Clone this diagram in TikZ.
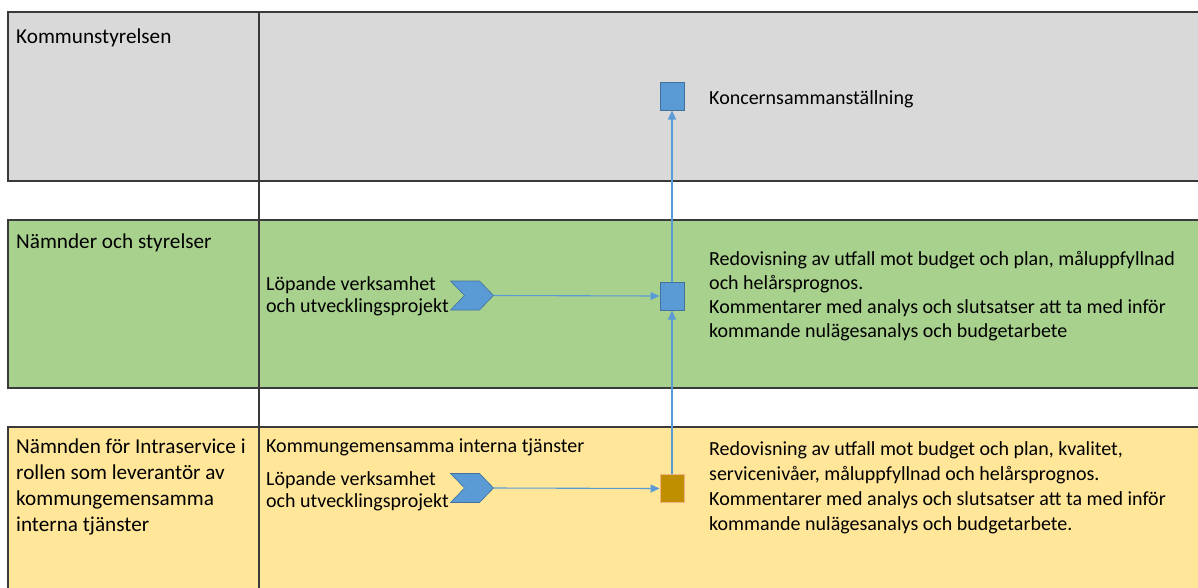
\documentclass[tikz,border=0pt]{standalone}
\usepackage{fontspec}
\setmainfont{Carlito}
\usetikzlibrary{arrows.meta,shapes.symbols}
\definecolor{bandgray}{HTML}{D9D9D9}
\definecolor{bandgreen}{HTML}{A9D18E}
\definecolor{bandyellow}{HTML}{FFE699}
\definecolor{rule}{HTML}{3A3A3A}
\definecolor{stepblue}{HTML}{5B9BD5}
\definecolor{stepedge}{HTML}{41719C}
\definecolor{stepgold}{HTML}{BF8F00}
\definecolor{goldedge}{HTML}{F4B183}
\begin{document}
\begin{tikzpicture}[x=1pt,y=-1pt,
  band/.style={draw=rule,line width=1.4pt},
  % multi-line labels are placed by the baseline of their last line
  label/.style={anchor=base west,inner sep=0pt,align=left,font=\fontsize{20}{24.5}\selectfont},
  lanetitle/.style={label,font=\fontsize{21.2}{26}\selectfont},
  milestone/.style={draw=stepedge,fill=stepblue,line width=1pt,minimum width=24pt,minimum height=28pt,inner sep=0pt},
  goldstone/.style={milestone,draw=goldedge,fill=stepgold},
  chevron/.style={signal,signal from=west,signal to=east,signal pointer angle=92,draw=stepedge,fill=stepblue,line width=0.6pt,minimum width=43pt,minimum height=29pt,inner sep=0pt},
  flow/.style={draw=stepblue,line width=1.1pt,-{Triangle[length=9pt,width=8pt]}}]
\useasboundingbox (0,0) rectangle (1198,587);
\clip (0,0) rectangle (1198,587);
% swimlanes
\fill[white] (0,0) rectangle (1198,587);
\draw[band,fill=bandgray]   (8,12)  rectangle (1215,181);
\draw[band,fill=bandgreen]  (8,220) rectangle (1215,388);
\draw[band,fill=bandyellow] (8,427) rectangle (1215,600);
\draw[rule,line width=1.4pt] (259,12) -- (259,590);
% lane titles
\node[lanetitle] (ks) at (16,43) {Kommunstyrelsen};
\node[lanetitle] (ns) at (16,248) {Nämnder och styrelser};
\node[lanetitle] (ni) at (16,531) {Nämnden för Intraservice i\\rollen som leverantör av\\kommungemensamma\\interna tjänster};
% lane contents
\node[label] (kit) at (266,452) {Kommungemensamma interna tjänster};
\node[label,font=\fontsize{20}{22}\selectfont] (lv1) at (266,312) {Löpande verksamhet\\och utvecklingsprojekt};
\node[label,font=\fontsize{20}{22}\selectfont] (lv2) at (266,507) {Löpande verksamhet\\och utvecklingsprojekt};
\node[chevron] (c1) at (472,295.5) {};
\node[chevron] (c2) at (472,488) {};
\node[milestone] (m0) at (672,96) {};
\node[milestone] (m1) at (672,296) {};
\node[goldstone] (m2) at (672,488.5) {};
\node[label] (t0) at (709,104) {Koncernsammanställning};
\node[label,font=\fontsize{20}{24}\selectfont] (t1) at (709,337) {Redovisning av utfall mot budget och plan, måluppfyllnad\\och helårsprognos.\\Kommentarer med analys och slutsatser att ta med inför\\kommande nulägesanalys och budgetarbete};
\node[label,font=\fontsize{20}{25}\selectfont] (t2) at (709,530) {Redovisning av utfall mot budget och plan, kvalitet,\\servicenivåer, måluppfyllnad och helårsprognos.\\Kommentarer med analys och slutsatser att ta med inför\\kommande nulägesanalys och budgetarbete.};
% connectors
\draw[flow] (c1.east) -- (m1.west);
\draw[flow] (c2.east) -- (m2.west);
\draw[flow] (m2.north) -- (m1.south);
\draw[flow] (m1.north) -- (m0.south);
\end{tikzpicture}
\end{document}
